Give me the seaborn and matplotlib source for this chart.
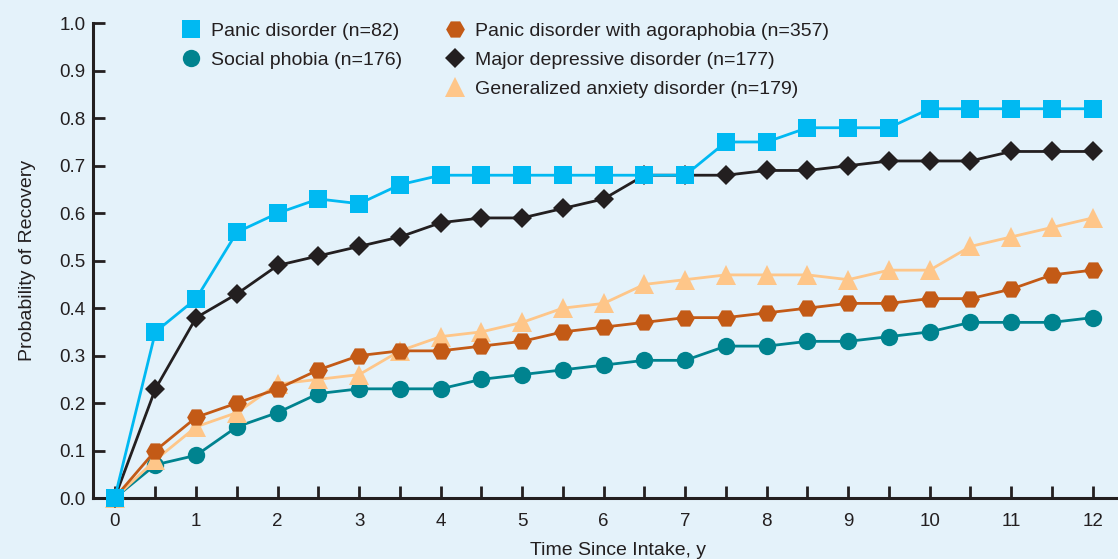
import numpy as np
import pandas as pd
import matplotlib
matplotlib.use("Agg")
import matplotlib.pyplot as plt
from matplotlib.lines import Line2D
from matplotlib.ticker import MultipleLocator, FormatStrFormatter
import seaborn as sns

# Years since intake (every half year)
years = [0, 0.5, 1, 1.5, 2, 2.5, 3, 3.5, 4, 4.5, 5, 5.5, 6, 6.5, 7, 7.5,
         8, 8.5, 9, 9.5, 10, 10.5, 11, 11.5, 12]

panic = [0.00, 0.35, 0.42, 0.56, 0.60, 0.63, 0.62, 0.66, 0.68, 0.68, 0.68, 0.68, 0.68,
         0.68, 0.68, 0.75, 0.75, 0.78, 0.78, 0.78, 0.82, 0.82, 0.82, 0.82, 0.82]
social = [0.00, 0.07, 0.09, 0.15, 0.18, 0.22, 0.23, 0.23, 0.23, 0.25, 0.26, 0.27, 0.28,
          0.29, 0.29, 0.32, 0.32, 0.33, 0.33, 0.34, 0.35, 0.37, 0.37, 0.37, 0.38]
agora = [0.00, 0.10, 0.17, 0.20, 0.23, 0.27, 0.30, 0.31, 0.31, 0.32, 0.33, 0.35, 0.36,
         0.37, 0.38, 0.38, 0.39, 0.40, 0.41, 0.41, 0.42, 0.42, 0.44, 0.47, 0.48]
mdd = [0.00, 0.23, 0.38, 0.43, 0.49, 0.51, 0.53, 0.55, 0.58, 0.59, 0.59, 0.61, 0.63,
       0.68, 0.68, 0.68, 0.69, 0.69, 0.70, 0.71, 0.71, 0.71, 0.73, 0.73, 0.73]
gad = [0.00, 0.08, 0.15, 0.18, 0.24, 0.25, 0.26, 0.31, 0.34, 0.35, 0.37, 0.40, 0.41,
       0.45, 0.46, 0.47, 0.47, 0.47, 0.46, 0.48, 0.48, 0.53, 0.55, 0.57, 0.59]

labels = {
    "panic": "Panic disorder (n=82)",
    "social": "Social phobia (n=176)",
    "agora": "Panic disorder with agoraphobia (n=357)",
    "mdd": "Major depressive disorder (n=177)",
    "gad": "Generalized anxiety disorder (n=179)",
}

BG = "#e4f2fa"
TXT = "#231f20"

# marker, size, colour for each group (in drawing order, bottom to top)
styles = {
    "social": dict(marker="o", ms=12.5, color="#00838f"),
    "gad":    dict(marker="^", ms=14, color="#fec689"),
    "agora":  dict(marker="H", ms=13.5, color="#c35a16"),
    "mdd":    dict(marker="D", ms=10, color="#231f20"),
    "panic":  dict(marker="s", ms=12.5, color="#00b9f2"),
}
values = {"panic": panic, "social": social, "agora": agora, "mdd": mdd, "gad": gad}

sns.set_theme(style="ticks")
plt.rcParams["font.family"] = ["Liberation Sans", "DejaVu Sans"]

fig = plt.figure(figsize=(11.18, 5.59), dpi=100, facecolor=BG)
ax = fig.add_axes([0.0829, 0.1091, 0.9171, 0.8492])
ax.set_facecolor(BG)

for i, key in enumerate(styles):
    st = styles[key]
    df = pd.DataFrame({"year": years, "p": values[key]})
    sns.lineplot(data=df, x="year", y="p", ax=ax, color=st["color"],
                 marker=st["marker"], markersize=st["ms"], markeredgewidth=0,
                 linewidth=2.0, clip_on=False, zorder=3 + i, legend=False)

ax.set_xlim(-0.27, 12.31)
ax.set_ylim(0, 1.0)
ax.xaxis.set_major_locator(MultipleLocator(1))
ax.xaxis.set_minor_locator(MultipleLocator(0.5))
ax.yaxis.set_major_locator(MultipleLocator(0.1))
ax.yaxis.set_major_formatter(FormatStrFormatter("%.1f"))
ax.xaxis.set_major_formatter(FormatStrFormatter("%d"))

for side in ("top", "right"):
    ax.spines[side].set_visible(False)
for side in ("left", "bottom"):
    ax.spines[side].set_linewidth(2.2)
    ax.spines[side].set_color(TXT)

ax.tick_params(axis="both", which="both", direction="in", length=8.5, width=2,
               color=TXT, labelcolor=TXT, labelsize=13.5)
ax.tick_params(axis="y", pad=5)
ax.tick_params(axis="x", which="both", pad=11)

ax.set_xlabel("Time Since Intake, y", fontsize=14, color=TXT)
ax.set_ylabel("Probability of Recovery", fontsize=14, color=TXT)
ax.xaxis.set_label_coords(0.512, -0.093)
ax.yaxis.set_label_coords(-0.055, 0.5)

# Legend: two columns, left column holds two entries
order = ["panic", "social", None, "agora", "mdd", "gad"]
handles, texts = [], []
for key in order:
    if key is None:
        handles.append(Line2D([], [], linestyle="none", marker=None))
        texts.append("")
    else:
        st = styles[key]
        handles.append(Line2D([], [], linestyle="none", marker=st["marker"],
                              markersize=st["ms"], color=st["color"],
                              markeredgewidth=0))
        texts.append(labels[key])

fig.legend(handles, texts, ncol=2, loc="upper left",
           bbox_to_anchor=(181 / 1118, 1 - 22 / 559), frameon=False,
           fontsize=14, handlelength=1.0, handletextpad=0.55,
           columnspacing=2.2, labelspacing=0.6, borderpad=0, borderaxespad=0,
           labelcolor=TXT)

fig.savefig("out.png", dpi=100, facecolor=BG)
